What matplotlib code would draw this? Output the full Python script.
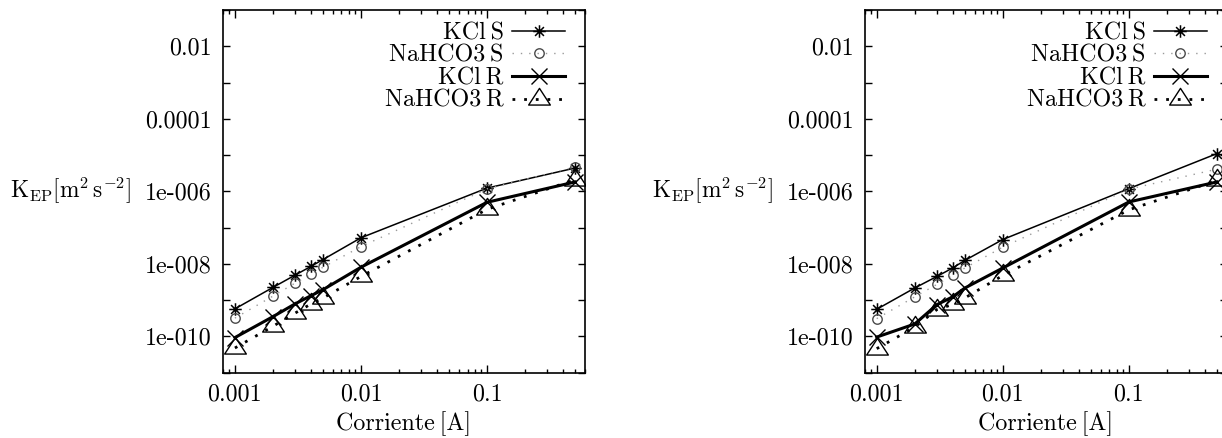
import matplotlib
matplotlib.use("Agg")
import matplotlib.pyplot as plt
from matplotlib.path import Path
from matplotlib.ticker import FixedLocator, FixedFormatter, NullFormatter
import numpy as np

plt.rcParams['mathtext.fontset'] = 'cm'
plt.rcParams['axes.unicode_minus'] = False
plt.rcParams['font.family'] = ['cmr10', 'DejaVu Serif']

# ---------------- data ----------------
corriente = [0.001, 0.002, 0.003, 0.004, 0.005, 0.01, 0.1, 0.5]

# left panel
kcl_s_left = [5.75e-10, 2.24e-9, 4.9e-9, 8.5e-9, 1.32e-8, 5.25e-8, 1.23e-6, 4.4e-6]
nahco3_s_left = [3.2e-10, 1.29e-9, 2.95e-9, 5.1e-9, 8.1e-9, 3.0e-8, 1.17e-6, 4.7e-6]
kcl_r_left = [9.3e-11, 3.5e-10, 7.9e-10, 1.32e-9, 1.95e-9, 8.1e-9, 5.0e-7, 1.82e-6]
nahco3_r_left = [4.8e-11, 1.9e-10, 4.4e-10, 7.8e-10, 1.15e-9, 4.5e-9, 3.2e-7, 2.1e-6]

# right panel
kcl_s_right = [5.6e-10, 2.16e-9, 4.5e-9, 7.7e-9, 1.25e-8, 4.7e-8, 1.19e-6, 1.1e-5]
nahco3_s_right = [3.1e-10, 1.23e-9, 2.72e-9, 4.8e-9, 7.7e-9, 2.9e-8, 1.15e-6, 4.1e-6]
kcl_r_right = [9.6e-11, 2.2e-10, 7.5e-10, 1.23e-9, 2.16e-9, 7.7e-9, 5.1e-7, 1.82e-6]
nahco3_r_right = [4.6e-11, 1.8e-10, 5.5e-10, 7.6e-10, 1.15e-9, 4.8e-9, 3.1e-7, 2.0e-6]

series_labels = ['KCl\u2009S', 'NaHCO3\u2009S', 'KCl\u2009R', 'NaHCO3\u2009R']
xlabel = 'Corriente\u2009[A]'
ylabel = r'$\mathrm{K}_{\mathrm{EP}}[\mathrm{m}^{2}\,\mathrm{s}^{-2}]$'
xtick_vals = [0.001, 0.01, 0.1]
xtick_labels = ['0.001', '0.01', '0.1']
ytick_vals = [1e-10, 1e-8, 1e-6, 1e-4, 1e-2]
ytick_labels = ['1e-010', '1e-008', '1e-006', '0.0001', '0.01']
yminor_vals = [1e-11, 1e-9, 1e-7, 1e-5, 1e-3, 1e-1]

# ---------------- markers ----------------
c = 0.7071
star_path = Path([(-1, 0), (1, 0), (0, -1), (0, 1), (-c, -c), (c, c), (-c, c), (c, -c)],
                 [Path.MOVETO, Path.LINETO] * 4)
tri_path = Path([(0, 1), (-0.977, -0.5), (0.977, -0.5), (0, 1)],
                [Path.MOVETO, Path.LINETO, Path.LINETO, Path.CLOSEPOLY])

W, H = 1222, 438
fig = plt.figure(figsize=(W / 100, H / 100), dpi=100)

FS = 17.3


def make_panel(left_px, data):
    ax = fig.add_axes([left_px / W, 1 - 372.7 / H, 362.5 / W, (372.7 - 10) / H])
    ks, ns, kr, nr = data
    ax.plot(corriente, ks, color='black', lw=1.1, marker=star_path, ms=9,
            mew=1.1, mfc='none', mec='black', label=series_labels[0])
    ax.plot(corriente, ns, color='#9a9a9a', lw=1.0, ls=(0, (1, 5)), marker='o', ms=6.8,
            mew=1.0, mfc='none', mec='#4a4a4a', label=series_labels[1])
    ax.plot(corriente, kr, color='black', lw=2.2, marker='x', ms=11.5,
            mew=1.0, mec='black', label=series_labels[2])
    ax.plot(corriente, nr, color='black', lw=2.0, ls=(0, (1, 3.2)), dash_capstyle='butt',
            marker=tri_path, ms=16, mew=1.0, mfc='none', mec='black', label=series_labels[3])
    ax.set_xscale('log')
    ax.set_yscale('log')
    ax.set_xlim(0.0008, 0.6)
    ax.set_ylim(1e-11, 1e-1)

    ax.xaxis.set_major_locator(FixedLocator(xtick_vals))
    ax.xaxis.set_major_formatter(FixedFormatter(xtick_labels))
    ax.xaxis.set_minor_locator(matplotlib.ticker.LogLocator(base=10, subs=np.arange(2, 10)))
    ax.xaxis.set_minor_formatter(NullFormatter())
    ax.yaxis.set_major_locator(FixedLocator(ytick_vals))
    ax.yaxis.set_major_formatter(FixedFormatter(ytick_labels))
    ax.yaxis.set_minor_locator(FixedLocator(yminor_vals))
    ax.yaxis.set_minor_formatter(NullFormatter())

    ax.tick_params(which='both', direction='in', top=True, right=True, width=1.0,
                   labelsize=FS, color='black')
    ax.tick_params(axis='x', which='major', length=5.5, pad=8)
    ax.tick_params(axis='x', which='minor', length=3.2)
    ax.tick_params(axis='y', which='both', length=5.2, pad=8)
    for sp in ax.spines.values():
        sp.set_linewidth(1.2)
    ax.set_xlabel(xlabel, fontsize=FS, labelpad=4)

    ax.legend(loc='upper right', bbox_to_anchor=((565 - 222.7) / 362.5, 0.967),
              frameon=False, markerfirst=False, numpoints=1, fontsize=FS,
              labelspacing=0.02, handlelength=2.2, handletextpad=0.35,
              borderpad=0, borderaxespad=0, handleheight=0.7)
    fig.text((left_px - 212.5) / W, 1 - 191 / H, ylabel, fontsize=FS - 0.5,
             ha='left', va='center')
    return ax


make_panel(222.7, (kcl_s_left, nahco3_s_left, kcl_r_left, nahco3_r_left))
make_panel(864.5, (kcl_s_right, nahco3_s_right, kcl_r_right, nahco3_r_right))

fig.savefig('out.png', dpi=100)
